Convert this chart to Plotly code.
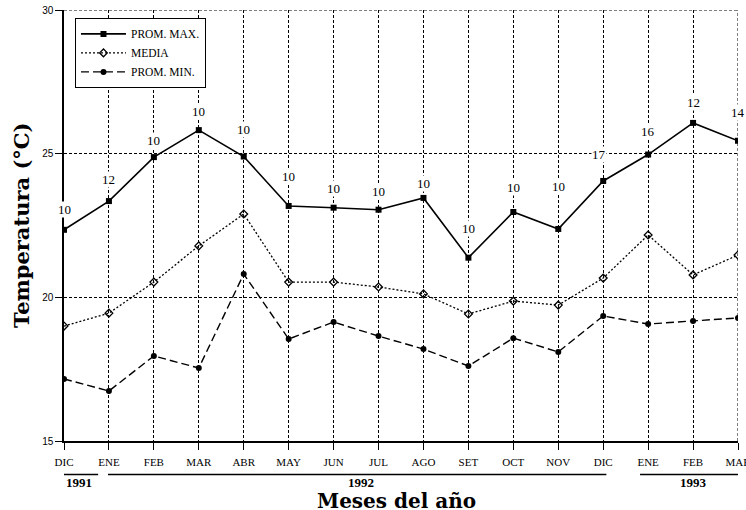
import plotly.graph_objects as go

months = ["DIC", "ENE", "FEB", "MAR", "ABR", "MAY", "JUN", "JUL", "AGO",
          "SET", "OCT", "NOV", "DIC", "ENE", "FEB", "MAR"]
prom_max = [22.35, 23.35, 24.88, 25.82, 24.9, 23.18, 23.12, 23.05, 23.46,
            21.38, 22.97, 22.38, 24.05, 24.97, 26.07, 25.45]
media = [19.0, 19.45, 20.53, 21.79, 22.9, 20.53, 20.53, 20.36, 20.12,
         19.42, 19.87, 19.73, 20.67, 22.17, 20.78, 21.47]
prom_min = [17.16, 16.74, 17.96, 17.54, 20.81, 18.55, 19.14, 18.65, 18.2,
            17.61, 18.58, 18.1, 19.35, 19.07, 19.18, 19.28]
n_obs = [10, 12, 10, 10, 10, 10, 10, 10, 10, 10, 10, 10, 17, 16, 12, 14]
years = ["1991", "1992", "1993"]
y_ticks = [15, 20, 25, 30]

# label offsets above the max points (pixels)
label_yshift = [20, 22, 17, 19, 27, 29, 19, 18, 14, 29, 25, 42, 26, 23, 20, 28]
label_xshift = [0] * 16
label_xshift[12] = -4

x = list(range(len(months)))
SERIF = "Liberation Serif"
BOLD_SERIF = "DejaVu Serif"
GRID_DASH = "3px,2px"

fig = go.Figure()
fig.add_trace(go.Scatter(
    x=x, y=prom_max, name="PROM. MAX.", mode="lines+markers",
    line=dict(color="black", width=1.6),
    marker=dict(symbol="square", size=6, color="black")))
fig.add_trace(go.Scatter(
    x=x, y=media, name="MEDIA", mode="lines+markers",
    line=dict(color="black", width=1.3, dash="2px,2px"),
    marker=dict(symbol="diamond-open", size=6, color="black", line=dict(width=1.3))))
fig.add_trace(go.Scatter(
    x=x, y=prom_min, name="PROM. MIN.", mode="lines+markers",
    line=dict(color="black", width=1.4, dash="8px,4px"),
    marker=dict(symbol="circle", size=6, color="black")))

annotations = []
for i in x:
    annotations.append(dict(
        x=i, y=prom_max[i], text=str(n_obs[i]), showarrow=False,
        yshift=label_yshift[i], xshift=label_xshift[i],
        font=dict(family=SERIF, size=13, color="black"),
        bgcolor="white", borderpad=0))

# axis titles
annotations.append(dict(
    xref="paper", yref="paper", x=-0.063, y=0.5, text="<b>Temperatura (°C)</b>",
    textangle=-90, showarrow=False, xanchor="center", yanchor="middle",
    font=dict(family=BOLD_SERIF, size=21, color="black")))
annotations.append(dict(
    xref="paper", yref="paper", x=0.494, y=-0.139, text="<b>Meses del año</b>",
    showarrow=False, xanchor="center", yanchor="middle",
    font=dict(family=BOLD_SERIF, size=20, color="black")))

# year labels and brackets
year_pos = [0.33, 6.6, 14.0]
year_spans = [(-0.2, 0.76), (0.98, 12.07), (12.82, 16.5)]
shapes = []
for yr, xp, (a, b) in zip(years, year_pos, year_spans):
    annotations.append(dict(
        xref="x", yref="paper", x=xp, y=-0.097, text="<b>" + yr + "</b>",
        showarrow=False, xanchor="center", yanchor="middle",
        font=dict(family=SERIF, size=13, color="black")))
    shapes.append(dict(
        type="line", xref="x", yref="paper", x0=a, x1=b, y0=-0.078, y1=-0.078,
        line=dict(color="black", width=1.5), layer="above"))

# edge gridlines (top at 30, right at last month) that Plotly omits at range edges
shapes.append(dict(type="line", xref="paper", yref="y", x0=0, x1=1,
                   y0=y_ticks[-1], y1=y_ticks[-1],
                   line=dict(color="black", width=1, dash=GRID_DASH), layer="below"))
shapes.append(dict(type="line", xref="x", yref="paper", x0=x[-1], x1=x[-1],
                   y0=0, y1=1,
                   line=dict(color="black", width=1, dash=GRID_DASH), layer="below"))

fig.update_layout(
    width=746, height=510,
    margin=dict(l=64, r=8, t=10, b=69),
    paper_bgcolor="white", plot_bgcolor="white",
    showlegend=True,
    legend=dict(
        x=0.016, y=0.981, xanchor="left", yanchor="top",
        bgcolor="white", bordercolor="black", borderwidth=1.2,
        font=dict(family=SERIF, size=11.5, color="black"),
        itemwidth=45),
    annotations=annotations, shapes=shapes,
    xaxis=dict(
        range=[x[0], x[-1]], tickvals=x, ticktext=months,
        showline=True, linecolor="black", linewidth=1.5,
        ticks="outside", ticklen=7, tickcolor="black", tickwidth=1.2,
        ticklabelstandoff=3, ticklabeloverflow="allow",
        showgrid=True, gridcolor="black", gridwidth=1, griddash=GRID_DASH,
        zeroline=False, automargin=False,
        tickfont=dict(family=SERIF, size=11, color="black")),
    yaxis=dict(
        range=[y_ticks[0], y_ticks[-1]], tickvals=y_ticks,
        showline=True, linecolor="black", linewidth=1.5,
        ticks="outside", ticklen=7, tickcolor="black", tickwidth=1.2,
        ticklabeloverflow="allow",
        showgrid=True, gridcolor="black", gridwidth=1, griddash=GRID_DASH,
        zeroline=False, automargin=False,
        tickfont=dict(family="Liberation Sans", size=10, color="black")),
)

fig.write_html("out.html",
               config={"displayModeBar": False},
               post_script="document.body.style.margin='0';"
                           "document.body.style.overflow='hidden';")
